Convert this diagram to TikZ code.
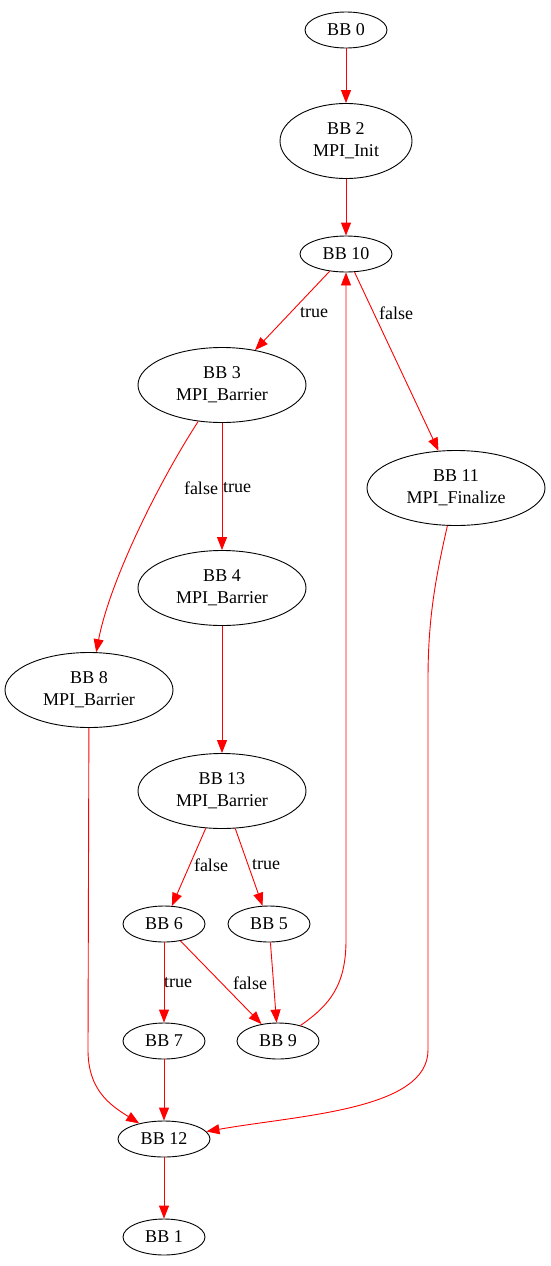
\documentclass[tikz,border=0pt]{standalone}
\usepackage{fontspec}
\setmainfont{Liberation Serif}
\usetikzlibrary{shapes.geometric,arrows.meta}

\begin{document}
\begin{tikzpicture}[x=1pt,y=-1pt,
    bb/.style={ellipse,draw,line width=0.9pt,inner sep=0pt,align=center,
        font=\fontsize{18}{22}\selectfont,minimum width=82pt,minimum height=36pt},
    bbwide/.style={bb,minimum width=92pt},
    bbcall/.style={bb,minimum width=168pt,minimum height=75pt},
    lbl/.style={inner sep=0pt,font=\fontsize{18}{20}\selectfont},
    edge/.style={red,line width=0.9pt,-{Triangle[length=13pt,width=10pt]}}]
\useasboundingbox (0,0) rectangle (551,1266);

% Basic blocks
\node[bb] (b0) at (346,30) {BB 0};
\node[bbcall,minimum width=132pt] (b2) at (346,141) {BB 2\\ MPI\_Init};
\node[bbwide] (b10) at (346,254) {BB 10};
\node[bbcall] (b3) at (222,385) {BB 3\\ MPI\_Barrier};
\node[bbcall,minimum width=178pt] (b11) at (456,488) {BB 11\\ MPI\_Finalize};
\node[bbcall] (b4) at (222,588) {BB 4\\ MPI\_Barrier};
\node[bbcall] (b8) at (89,690) {BB 8\\ MPI\_Barrier};
\node[bbcall] (b13) at (222,791) {BB 13\\ MPI\_Barrier};
\node[bb] (b6) at (164,924) {BB 6};
\node[bb] (b5) at (269,924) {BB 5};
\node[bb] (b7) at (164,1041) {BB 7};
\node[bb] (b9) at (278,1041) {BB 9};
\node[bbwide] (b12) at (164,1139) {BB 12};
\node[bb] (b1) at (164,1237) {BB 1};

% Straight edges
\draw[edge] (b0) -- (b2);
\draw[edge] (b2) -- (b10);
\draw[edge] (b10) -- (b3);
\draw[edge] (b10) -- (b11);
\draw[edge] (b3) -- (b4);
\draw[edge] (b4) -- (b13);
\draw[edge] (b13) -- (b6);
\draw[edge] (b13) -- (b5);
\draw[edge] (b6) -- (b7);
\draw[edge] (b6) -- (b9);
\draw[edge] (b5) -- (b9);
\draw[edge] (b7) -- (b12);
\draw[edge] (b12) -- (b1);

% Curved edges
\draw[edge] (b3) .. controls (160,480) and (110,580) .. (b8);
\draw[edge] (b8) -- (88,1050) .. controls (88,1090) and (110,1105) .. (b12);
\draw[edge] (b11) .. controls (435,580) and (428,620) .. (428,680)
    -- (428,1050) .. controls (428,1110) and (300,1115) .. (b12);
\draw[edge] (b9) .. controls (330,1005) and (346,985) .. (346,940) -- (b10);

% Branch labels
\node[lbl] (t103) at (314,313) {true};
\node[lbl] (f1011) at (396,313) {false};
\node[lbl] (f38) at (201,488) {false};
\node[lbl] (t34) at (237,488) {true};
\node[lbl] (f136) at (211,865) {false};
\node[lbl] (t135) at (266,865) {true};
\node[lbl] (t67) at (178,983) {true};
\node[lbl] (f69) at (250,983) {false};
\end{tikzpicture}
\end{document}
